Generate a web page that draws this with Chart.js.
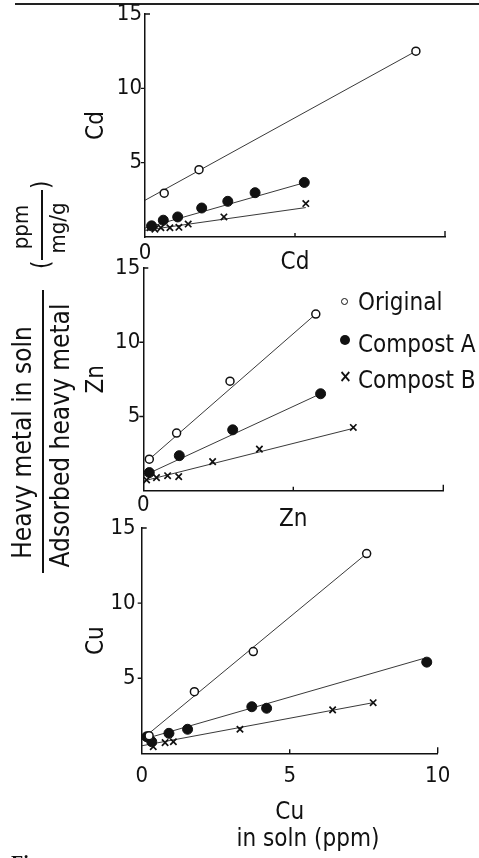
<!DOCTYPE html>
<html><head><meta charset="utf-8">
<script src="https://cdn.jsdelivr.net/npm/chart.js@4.4.1/dist/chart.umd.min.js"></script>
<style>
html,body{margin:0;padding:0;background:#fff;}
body{width:479px;height:858px;position:relative;overflow:hidden;font-family:"DejaVu Sans Condensed","DejaVu Sans",sans-serif;color:#111;}
canvas{position:absolute;left:0;}
.abs{position:absolute;}
.rot{position:absolute;transform:rotate(-90deg);transform-origin:50% 50%;}
.rot span,.rot div{position:absolute;white-space:nowrap;}
.leg{position:absolute;left:358px;font-size:24px;line-height:24px;white-space:nowrap;}
.mk{position:absolute;}
</style></head><body>

<div class="abs" style="left:15px;top:3px;width:464px;height:1.5px;background:#222;"></div>

<canvas id="c1" width="479" height="277" style="top:0px"></canvas>
<canvas id="c2" width="479" height="284" style="top:250px"></canvas>
<canvas id="c3" width="479" height="317" style="top:510px"></canvas>

<!-- units: ( ppm / mg/g ) -->
<div class="rot" style="left:-8px;top:195px;width:100px;height:60px;">
  <div style="left:15px;top:29.25px;width:70px;height:1.5px;background:#111;"></div>
  <span style="left:0;width:96px;text-align:center;top:-2px;font-size:22px;line-height:22px;">ppm</span>
  <span style="left:0;width:94px;text-align:center;top:35px;font-size:22px;line-height:22px;">mg/g</span>
  <span style="left:6px;top:17px;font-size:24px;line-height:24px;">(</span>
  <span style="left:86px;top:17px;font-size:24px;line-height:24px;">)</span>
</div>

<!-- main fraction label -->
<div class="rot" style="left:-107.3px;top:391.5px;width:300px;height:80px;">
  <div style="left:8.5px;top:39.25px;width:283px;height:1.5px;background:#111;"></div>
  <span style="left:-10.5px;width:300px;text-align:center;top:6px;font-size:26px;line-height:26px;">Heavy metal in soln</span>
  <span style="left:-3.5px;width:300px;text-align:center;top:44px;font-size:26px;line-height:26px;">Adsorbed heavy metal</span>
</div>

<!-- legend -->
<div class="mk" style="left:341px;top:298px;width:5px;height:5px;border:1.5px solid #111;border-radius:50%;"></div>
<div class="leg" style="top:290px;">Original</div>
<div class="mk" style="left:340px;top:335px;width:10px;height:10px;background:#111;border-radius:50%;"></div>
<div class="leg" style="top:332px;">Compost A</div>
<div class="mk" style="left:339px;top:366px;font-size:17px;line-height:20px;font-weight:bold;">×</div>
<div class="leg" style="top:368px;">Compost B</div>

<div class="abs" style="left:208px;top:826px;width:200px;text-align:center;font-size:24px;line-height:24px;">in soln (ppm)</div>
<div class="abs" style="left:11px;top:853px;font-family:'Liberation Serif',serif;font-weight:bold;font-size:20px;line-height:20px;">Fig.</div>

<script>
// ---------- data ----------
// Cd panel
const cdOrigX = [0.64, 1.8, 9.03];
const cdOrigY = [2.95, 4.53, 12.5];
const cdOrigFitX = [0, 9.03];
const cdOrigFitY = [2.47, 12.5];
const cdAX = [0.22, 0.61, 1.09, 1.89, 2.76, 3.67, 5.31];
const cdAY = [0.75, 1.13, 1.35, 1.95, 2.4, 2.98, 3.67];
const cdAFitX = [0, 5.31];
const cdAFitY = [0.6, 3.65];
const cdBX = [0.17, 0.33, 0.53, 0.83, 1.13, 1.44, 2.63, 5.36];
const cdBY = [0.62, 0.53, 0.62, 0.62, 0.65, 0.87, 1.35, 2.25];
const cdBFitX = [0, 5.36];
const cdBFitY = [0.45, 1.98];

// Zn panel
const znOrigX = [0.2, 1.11, 2.89, 5.75];
const znOrigY = [2.12, 3.88, 7.38, 11.9];
const znOrigFitX = [0.2, 5.75];
const znOrigFitY = [2.12, 11.9];
const znAX = [0.2, 1.2, 2.98, 5.91];
const znAY = [1.22, 2.36, 4.1, 6.53];
const znAFitX = [0, 5.91];
const znAFitY = [1.0, 6.53];
const znBX = [0.11, 0.44, 0.81, 1.18, 2.31, 3.87, 7.0];
const znBY = [0.72, 0.88, 1.01, 0.95, 1.96, 2.8, 4.26];
const znBFitX = [0, 7.0];
const znBFitY = [0.65, 4.2];

// Cu panel
const cuOrigX = [0.25, 1.78, 3.77, 7.6];
const cuOrigY = [1.17, 4.1, 6.77, 13.3];
const cuOrigFitX = [0.17, 7.6];
const cuOrigFitY = [1.2, 13.3];
const cuAX = [0.17, 0.34, 0.92, 1.55, 3.72, 4.22, 9.63];
const cuAY = [1.1, 0.77, 1.33, 1.6, 3.1, 3.0, 6.07];
const cuAFitX = [0, 9.5];
const cuAFitY = [0.9, 6.3];
const cuBX = [0.39, 0.79, 1.07, 3.32, 6.45, 7.82];
const cuBY = [0.44, 0.71, 0.77, 1.6, 2.89, 3.37];
const cuBFitX = [0, 7.82];
const cuBFitY = [0.5, 3.37];

// axes
const seriesNames = ['Original', 'Compost A', 'Compost B'];
const yTickLabels = [5, 10, 15];
const xTickLabelsUpper = [0];
const xTickLabelsLower = [0, 5, 10];
const yTickMarksOut = [5, 10];
const yTickMarksIn = [15];
const xTickMarksUp = [5, 10];
const xMax = 10, yMax = 15, tickStep = 5;

// ---------- drawing ----------
const FONT = '"DejaVu Sans Condensed", "DejaVu Sans", sans-serif';
const INK = '#111';
const pts = (xs, ys) => xs.map((x, i) => ({ x: x, y: ys[i] }));

const markerStyles = [
  { style: 'circle', r: 4, bg: '#fff', bw: 1.5 },
  { style: 'circle', r: 5, bg: INK, bw: 1 },
  { style: 'crossRot', r: 4.5, bg: INK, bw: 1.7 }
];

const tickPlugin = {
  id: 'figTicks',
  afterDraw(chart) {
    const { ctx, scales: { x, y } } = chart;
    ctx.save();
    ctx.strokeStyle = INK;
    ctx.lineWidth = 1.4;
    ctx.beginPath();
    yTickMarksOut.forEach(v => { const p = y.getPixelForValue(v); ctx.moveTo(x.left - 4, p); ctx.lineTo(x.left, p); });
    yTickMarksIn.forEach(v => { const p = y.getPixelForValue(v); ctx.moveTo(x.left, p); ctx.lineTo(x.left + 5, p); });
    xTickMarksUp.forEach(v => { const p = x.getPixelForValue(v); ctx.moveTo(p, y.bottom); ctx.lineTo(p, y.bottom - (v === xMax ? 6 : 4)); });
    ctx.stroke();
    ctx.restore();
  }
};

function makePanel(id, cfg) {
  const datasets = [];
  cfg.series.forEach((s, i) => {
    const m = markerStyles[i];
    datasets.push({
      label: seriesNames[i], data: pts(s[0], s[1]), showLine: false, order: 1,
      pointStyle: m.style, pointRadius: m.r, pointBackgroundColor: m.bg,
      pointBorderColor: INK, pointBorderWidth: m.bw,
      backgroundColor: m.bg, borderColor: INK
    });
    datasets.push({
      label: seriesNames[i] + ' fit', data: pts(s[2], s[3]), showLine: true, order: 2,
      pointRadius: 0, borderColor: '#222', borderWidth: 0.9, fill: false
    });
  });
  new Chart(document.getElementById(id), {
    type: 'scatter',
    data: { datasets },
    options: {
      responsive: false, animation: false, events: [],
      layout: { padding: cfg.pad },
      plugins: { legend: { display: false }, tooltip: { enabled: false } },
      scales: {
        x: {
          type: 'linear', min: 0, max: xMax,
          afterFit: s => { s.height = cfg.hx; },
          grid: { display: false, drawTicks: false },
          border: { display: true, color: INK, width: 1.5 },
          ticks: {
            stepSize: tickStep, autoSkip: false, maxRotation: 0, padding: cfg.xPad, color: INK,
            font: { family: FONT, size: 22, lineHeight: 1 },
            callback: v => cfg.xShown.includes(v) ? String(v) : ''
          },
          title: { display: true, text: cfg.xTitle, color: INK, padding: 0,
                   font: { family: FONT, size: 24, lineHeight: 1.2 } }
        },
        y: {
          type: 'linear', min: 0, max: yMax,
          afterFit: s => { s.width = cfg.wy; },
          grid: { display: false, drawTicks: false },
          border: { display: true, color: INK, width: 1.5 },
          ticks: {
            stepSize: tickStep, autoSkip: false, padding: cfg.yPad, color: INK,
            font: { family: FONT, size: 22, lineHeight: 1 },
            callback: v => yTickLabels.includes(v) ? String(v) : ''
          },
          title: { display: true, text: cfg.yTitle, color: INK, padding: 0,
                   font: { family: FONT, size: 24, lineHeight: 1.2 } }
        }
      }
    },
    plugins: [tickPlugin]
  });
}

makePanel('c1', {
  series: [[cdOrigX, cdOrigY, cdOrigFitX, cdOrigFitY], [cdAX, cdAY, cdAFitX, cdAFitY], [cdBX, cdBY, cdBFitX, cdBFitY]],
  pad: { top: 12, left: 82.6, right: 34, bottom: 0 }, hx: 40, wy: 62.4, xPad: 5, yPad: 3,
  xShown: xTickLabelsUpper, xTitle: 'Cd', yTitle: 'Cd'
});
makePanel('c2', {
  series: [[znOrigX, znOrigY, znOrigFitX, znOrigFitY], [znAX, znAY, znAFitX, znAFitY], [znBX, znBY, znBFitX, znBFitY]],
  pad: { top: 18, left: 82.6, right: 35.7, bottom: 0 }, hx: 43.3, wy: 60.7, xPad: 4, yPad: 3,
  xShown: xTickLabelsUpper, xTitle: 'Zn', yTitle: 'Zn'
});
makePanel('c3', {
  series: [[cuOrigX, cuOrigY, cuOrigFitX, cuOrigFitY], [cuAX, cuAY, cuAFitX, cuAFitY], [cuBX, cuBY, cuBFitX, cuBFitY]],
  pad: { top: 18, left: 82.6, right: 41.3, bottom: 0 }, hx: 73.7, wy: 59.1, xPad: 12, yPad: 6,
  xShown: xTickLabelsLower, xTitle: 'Cu', yTitle: 'Cu'
});
</script>
</body></html>
